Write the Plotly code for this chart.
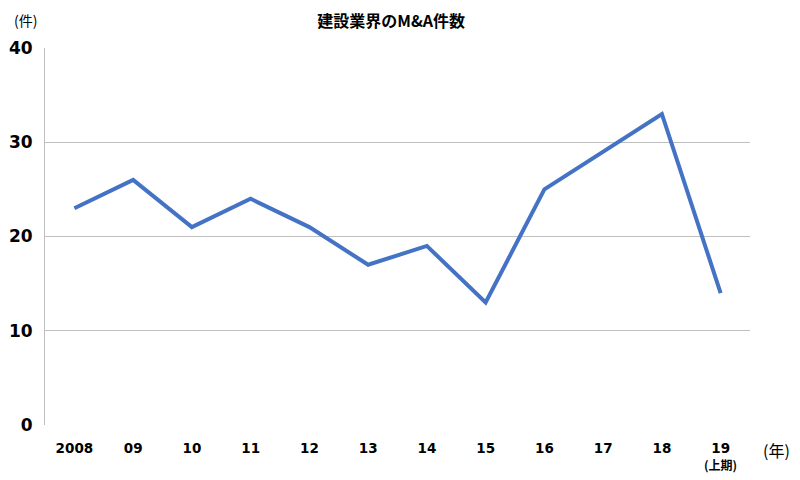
import plotly.graph_objects as go

years = ["2008", "09", "10", "11", "12", "13", "14", "15", "16", "17", "18", "19"]
counts = [23, 26, 21, 24, 21, 17, 19, 13, 25, 29, 33, 14]
y_ticks = [0, 10, 20, 30, 40]
title_text = "建設業界のM&A件数"
y_unit = "(件)"
x_unit = "(年)"
note_label = "(上期)"

fig = go.Figure()
fig.add_trace(go.Scatter(
    x=years, y=counts, mode="lines",
    line=dict(color="#4472C4", width=4),
    hoverinfo="x+y",
))

fig.update_layout(
    width=800, height=480,
    margin=dict(l=45, r=50, t=48, b=55, autoexpand=False),
    paper_bgcolor="white", plot_bgcolor="white",
    showlegend=False,
    font=dict(family="Noto Sans CJK JP", color="#000000"),
    title=dict(text=title_text, x=0.489, xanchor="center", y=0.955, yanchor="middle",
               font=dict(size=16, family="Noto Sans CJK JP", weight="bold")),
)
fig.update_xaxes(
    type="category", range=[-0.5, len(years) - 0.5], autorange=False,
    showgrid=False, zeroline=False, automargin=False,
    showline=False, ticks="",
    tickfont=dict(size=13.5, family="DejaVu Sans", weight="bold"),
    ticklabelstandoff=13,
)
fig.update_yaxes(
    range=[0, 40], tickvals=y_ticks, showgrid=True, gridcolor="#BFBFBF", gridwidth=1,
    zeroline=False, showline=True, linecolor="#BFBFBF", linewidth=1, automargin=False,
    ticks="", tickfont=dict(size=17, family="DejaVu Sans", weight="bold"),
    ticklabelstandoff=8,
)

fig.add_annotation(text=y_unit, xref="paper", yref="paper", x=-0.028, y=1.075,
                   xanchor="center", yanchor="middle", showarrow=False,
                   font=dict(size=14, family="Noto Sans CJK JP"))
fig.add_annotation(text=x_unit, xref="paper", yref="paper", x=1.037, y=-0.066,
                   xanchor="center", yanchor="middle", showarrow=False,
                   font=dict(size=16, family="Noto Sans CJK JP"))
fig.add_annotation(text=note_label, xref="x", yref="paper", x=len(years) - 1, y=-0.105,
                   xanchor="center", yanchor="middle", showarrow=False,
                   font=dict(size=12, family="Noto Sans CJK JP", weight="bold"))

fig.write_html("out.html", config={"displayModeBar": False},
               post_script="document.body.style.margin='0';")
